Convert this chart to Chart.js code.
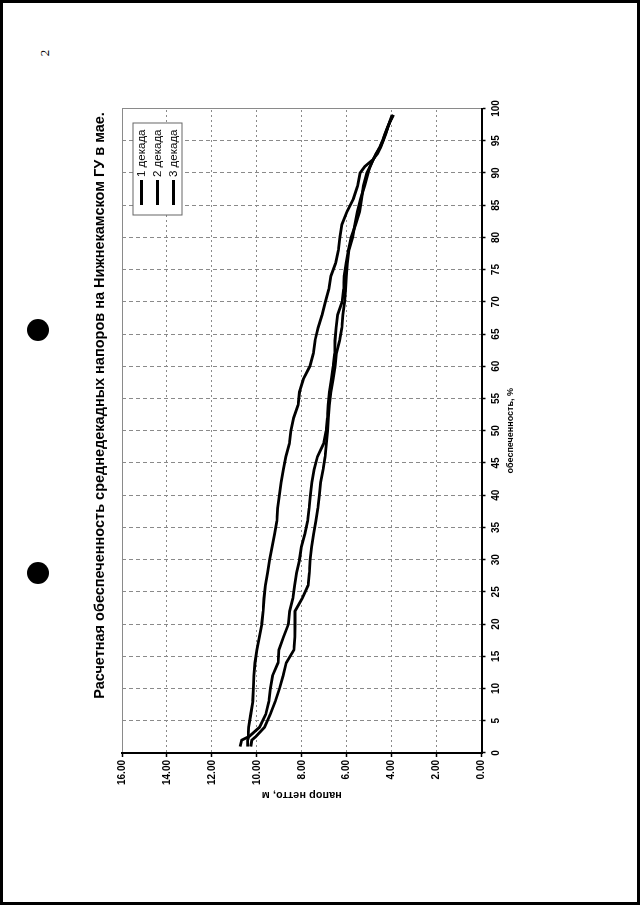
<!DOCTYPE html>
<html lang="ru">
<head>
<meta charset="utf-8">
<title>Расчетная обеспеченность напоров</title>
<script src="https://cdn.jsdelivr.net/npm/chart.js@4.4.1/dist/chart.umd.min.js"></script>
<style>
  html, body { margin: 0; padding: 0; background: #fff; }
  body { width: 640px; height: 905px; position: relative; overflow: hidden; }
  .sheet { position: absolute; left: 0; top: 0; width: 640px; height: 905px; box-sizing: border-box; border: 3px solid #000; }
  .hole { position: absolute; left: 27px; width: 22px; height: 22px; border-radius: 50%; background: #000; }
  .pagenum { position: absolute; left: 42px; top: 45px; font: 13px 'Liberation Serif', serif; transform: rotate(-90deg); }
  .rot { position: absolute; left: 60px; top: 820px; width: 829px; height: 470px; transform-origin: 0 0; transform: rotate(-90deg); }
</style>
</head>
<body>
<div class="sheet"></div>
<div class="pagenum">2</div>
<div class="hole" style="top:319px"></div>
<div class="hole" style="top:562px"></div>
<div class="rot"><canvas id="chart" width="829" height="470"></canvas></div>
<script>
// обеспеченность, %
const obespechennost = [1, 2, 2.5, 4, 6, 8, 10, 12, 14, 16, 18, 20, 22, 24, 26, 28, 30, 32, 34, 36, 38, 40,
  42, 44, 46, 48, 50, 52, 54, 56, 58, 60, 62, 64, 66, 68, 70, 72, 74, 76, 78, 80, 82, 84, 86, 88, 90,
  91, 92, 93, 94, 95, 96, 97, 98, 99];

// напор нетто, м
const dekada1 = [10.74, 10.67, 10.39, 10.36, 10.27, 10.18, 10.15, 10.13, 10.08, 10.0, 9.89, 9.78, 9.72, 9.68,
  9.62, 9.52, 9.43, 9.32, 9.21, 9.11, 9.07, 9.0, 8.92, 8.82, 8.71, 8.55, 8.48, 8.36, 8.16, 8.1, 7.93, 7.64,
  7.48, 7.41, 7.27, 7.09, 6.95, 6.79, 6.7, 6.49, 6.37, 6.3, 6.21, 5.99, 5.7, 5.51, 5.4, 5.19, 4.85, 4.63,
  4.49, 4.37, 4.27, 4.18, 4.08, 3.98];
const dekada2 = [10.41, 10.41, 10.36, 9.88, 9.6, 9.46, 9.4, 9.3, 9.05, 9.02, 8.81, 8.59, 8.54, 8.4, 8.32,
  8.23, 8.1, 8.02, 7.86, 7.74, 7.67, 7.62, 7.55, 7.45, 7.3, 7.03, 6.91, 6.86, 6.83, 6.77, 6.68, 6.6, 6.54,
  6.52, 6.47, 6.4, 6.2, 6.14, 6.11, 6.03, 5.93, 5.8, 5.6, 5.42, 5.34, 5.26, 5.1, 4.96, 4.83, 4.68, 4.51,
  4.39, 4.29, 4.18, 4.06, 3.92];
const dekada3 = [10.27, 10.22, 10.06, 9.66, 9.4, 9.18, 8.99, 8.83, 8.69, 8.35, 8.31, 8.3, 8.3, 7.98, 7.72,
  7.66, 7.63, 7.56, 7.47, 7.37, 7.28, 7.22, 7.16, 7.05, 6.96, 6.9, 6.85, 6.82, 6.77, 6.7, 6.6, 6.52, 6.46,
  6.31, 6.21, 6.17, 6.09, 6.05, 6.01, 5.97, 5.9, 5.74, 5.64, 5.52, 5.38, 5.2, 5.05, 4.95, 4.83, 4.69, 4.53,
  4.4, 4.3, 4.19, 4.07, 3.94];

const seriesNames = ['1 декада', '2 декада', '3 декада'];
const yTickLabels = ['0.00', '2.00', '4.00', '6.00', '8.00', '10.00', '12.00', '14.00', '16.00'];

Chart.defaults.font.family = "'Liberation Sans', Arial, sans-serif";
Chart.defaults.color = '#000';

function toPoints(values) {
  return values.map((v, i) => ({ x: obespechennost[i], y: v }));
}

// legend in a box inside the plot, like the Excel original
const legendBox = {
  id: 'legendBox',
  afterDatasetsDraw(chart) {
    const { ctx, chartArea } = chart;
    const w = 92, h = 49;
    const left = chartArea.right - 106.5;
    const top = chartArea.top + 11;
    ctx.save();
    ctx.fillStyle = '#fff';
    ctx.fillRect(left, top, w, h);
    ctx.strokeStyle = '#666';
    ctx.lineWidth = 1;
    ctx.strokeRect(left, top, w, h);
    ctx.font = "11.5px 'Liberation Sans', Arial, sans-serif";
    ctx.textBaseline = 'middle';
    chart.data.datasets.forEach((ds, i) => {
      const y = top + h / 2 + (i - 1) * 16;
      ctx.strokeStyle = ds.borderColor;
      ctx.lineWidth = 3;
      ctx.beginPath();
      ctx.moveTo(left + 10, y);
      ctx.lineTo(left + 35, y);
      ctx.stroke();
      ctx.fillStyle = '#000';
      ctx.fillText(ds.label, left + 38, y);
    });
    ctx.restore();
  }
};

const lineStyle = { borderColor: '#000', borderWidth: 2.8, pointRadius: 0, tension: 0, fill: false };

new Chart(document.getElementById('chart'), {
  type: 'line',
  plugins: [legendBox],
  data: {
    datasets: [
      { label: seriesNames[0], data: toPoints(dekada1), ...lineStyle },
      { label: seriesNames[1], data: toPoints(dekada2), ...lineStyle },
      { label: seriesNames[2], data: toPoints(dekada3), ...lineStyle },
    ]
  },
  options: {
    responsive: false,
    animation: false,
    events: [],
    plugins: {
      legend: { display: false },
      tooltip: { enabled: false },
      title: {
        display: true,
        text: 'Расчетная обеспеченность среднедекадных напоров на Нижнекамском ГУ в мае.',
        font: { size: 14.5, weight: 'bold' },
        padding: { top: 31.3, bottom: 13.3 },
      },
    },
    scales: {
      x: {
        type: 'linear',
        min: 0,
        max: 100,
        ticks: { stepSize: 5, maxRotation: 0, padding: 5, font: { size: 10, weight: 'bold' } },
        grid: { color: '#8a8a8a', tickColor: '#000', tickLength: 4, tickWidth: 1.5, tickBorderDash: [] },
        border: {
          color: '#000',
          width: 2,
          dash: (c) => (c.tick && c.tick.value === 100 ? [] : [4, 3]),
        },
        title: {
          display: true,
          text: 'обеспеченность, %',
          font: { size: 9, weight: 'bold' },
          padding: { top: 0, bottom: 13.6 },
        },
        afterFit: (s) => { s.height = 48.5; },
      },
      y: {
        min: 0,
        max: 16,
        ticks: {
          stepSize: 2,
          padding: 3,
          font: { size: 10, weight: 'bold' },
          callback: (v, i) => yTickLabels[i],
        },
        grid: { color: '#8a8a8a', tickColor: '#000', tickLength: 4, tickWidth: 1.5, tickBorderDash: [] },
        border: {
          color: '#000',
          width: 2,
          dash: (c) => (c.tick && c.tick.value === 16 ? [] : [2, 3]),
        },
        title: {
          display: true,
          text: 'напор нетто, м',
          font: { size: 11, weight: 'bold' },
          padding: { top: 18, bottom: 0 },
        },
        afterFit: (s) => { s.width = 67; },
      },
      // empty right-hand axis, only keeps the title offset like in the original
      y2: {
        position: 'right',
        grid: { display: false },
        border: { display: false },
        ticks: { display: false },
        afterFit: (s) => { s.width = 117.5; },
      },
    },
  },
});
</script>
</body>
</html>
